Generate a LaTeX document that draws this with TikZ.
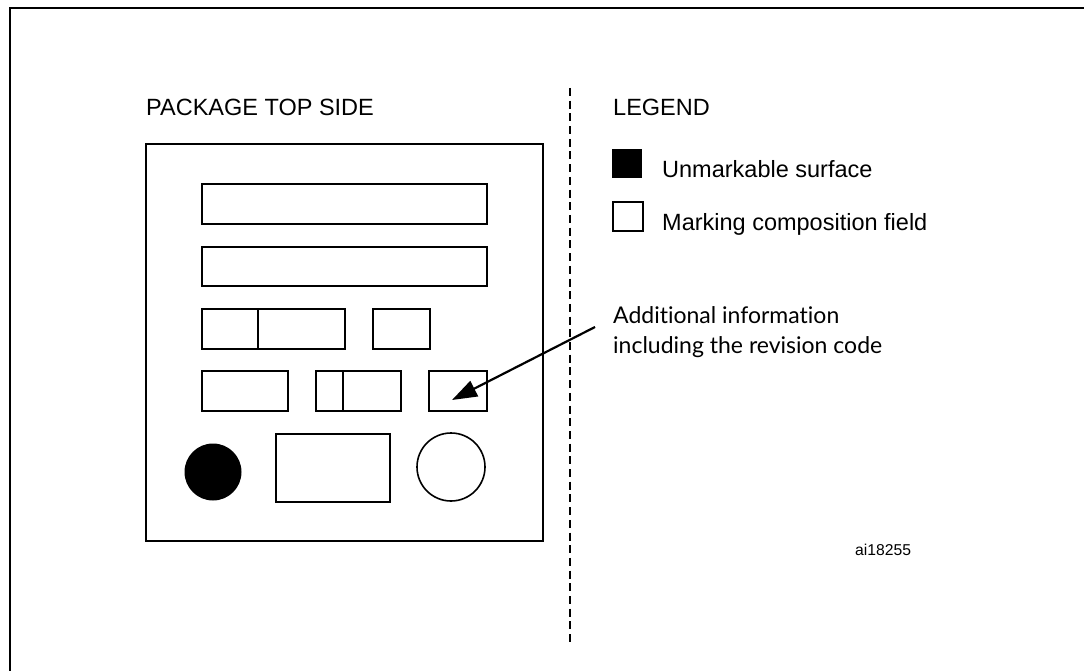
\documentclass[tikz,border=0pt]{standalone}
\usepackage{fontspec}
\setmainfont{Liberation Sans}
\newfontfamily\notefont[Ligatures={NoCommon}]{Lato}
\usetikzlibrary{arrows.meta}
\tikzset{
  field/.style={draw, line width=1.8pt, inner sep=0pt, anchor=north west},
  frameline/.style={line width=2.2pt},
  lbl/.style={anchor=base west, inner sep=0pt, font=\fontsize{23.5}{28}\selectfont},
  note/.style={anchor=base west, inner sep=0pt, font=\notefont\fontsize{23}{30}\selectfont},
}
\newcommand{\fieldbox}[5]{%
  \node[field, minimum width={(#4-#2)*1pt}, minimum height={(#5-#3)*1pt}] (#1) at (#2,#3) {};}
\begin{document}
\begin{tikzpicture}[x=1pt,y=-1pt]
\useasboundingbox (0,0) rectangle (1084,671);
% outer frame
\draw[frameline] (10,671) -- (10,8) -- (1084,8);
% package
\node[lbl] (ptitle) at (146,116) {PACKAGE TOP SIDE};
\node[draw, line width=2.2pt, inner sep=0pt, anchor=north west,
      minimum width=397pt, minimum height=397pt] (pkg) at (145,143) {};
\fieldbox{r1}{201}{183}{486}{223}
\fieldbox{r2}{201}{246}{486}{285}
\fieldbox{r3a}{201}{308}{344}{348}
\draw[line width=1.8pt] (r3a.north west) ++(57,0) -- ++(0,40);
\fieldbox{r3b}{372}{308}{429}{348}
\fieldbox{r4a}{201}{370}{287}{410}
\fieldbox{r4b}{315}{370}{400}{410}
\draw[line width=1.8pt] (r4b.north west) ++(28,0) -- ++(0,40);
\fieldbox{r4c}{428}{370}{486}{410}
\node[circle, fill, inner sep=0pt, minimum size=57pt] (c1) at (213,472) {};
\fieldbox{r5}{275}{433}{389}{501}
\node[circle, draw, line width=1.6pt, inner sep=0pt, minimum size=68pt] (c2) at (451,467) {};
% divider
\draw[line width=1.3pt, dash pattern=on 8pt off 4.7pt] (570,88) -- (570,642);
% legend
\node[lbl] (legend) at (613,116) {LEGEND};
\node[fill, inner sep=0pt, anchor=north west, minimum width=30pt, minimum height=29pt] (lk) at (612,149) {};
\node[lbl] (lkt) at (662,178) {Unmarkable surface};
\node[field, minimum width=30pt, minimum height=29pt] (lw) at (612,201) {};
\node[lbl] (lwt) at (662,230) {Marking composition field};
% note and arrow
\node[note] (info1) at (613,323) {Additional information};
\node[note] (info2) at (613,353) {including the revision code};
\coordinate (atail) at (595,327);
\coordinate (atip) at (452,400);
\draw[line width=2.2pt, -{Triangle[length=25pt,width=17pt]}] (atail) -- (atip);
\node[anchor=base west, inner sep=0pt, font=\fontsize{15.7}{18}\selectfont] (code) at (855,555) {ai18255};
\end{tikzpicture}
\end{document}
